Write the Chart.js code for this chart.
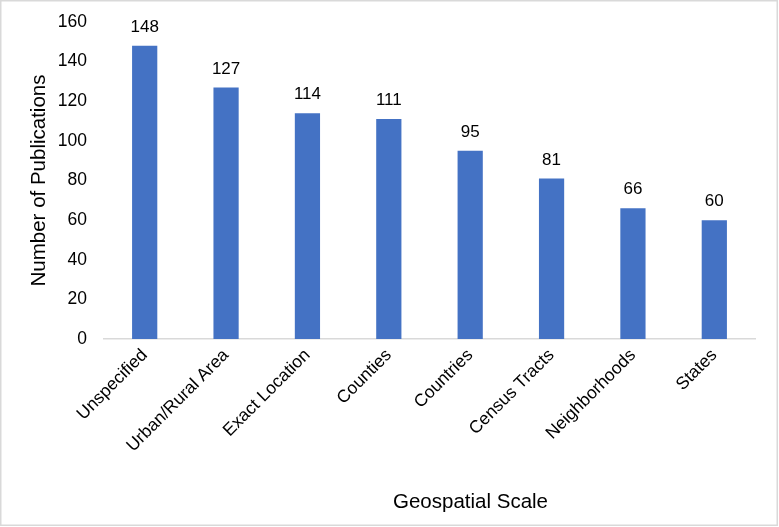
<!DOCTYPE html>
<html>
<head>
<meta charset="utf-8">
<script src="https://cdn.jsdelivr.net/npm/chart.js@4"></script>
<style>
  html, body { margin: 0; padding: 0; background: #fff; }
  #wrap { width: 779px; height: 527px; }
</style>
</head>
<body>
<div id="wrap"><canvas id="barChart" width="779" height="527"></canvas></div>
<script>
const categories = ["Unspecified", "Urban/Rural Area", "Exact Location", "Counties", "Countries", "Census Tracts", "Neighborhoods", "States"];
const publications = [148, 127, 114, 111, 95, 81, 66, 60];
const yTicks = [0, 20, 40, 60, 80, 100, 120, 140, 160];
const xTitle = "Geospatial Scale";
const yTitle = "Number of Publications";

const FONT = "'Liberation Sans', Arial, sans-serif";
const TICK_SIZE = 17.5;
const TITLE_SIZE = 20.5;

// value labels above each bar
const barLabels = {
    id: "barLabels",
    afterDatasetsDraw(chart) {
        const ctx = chart.ctx;
        const meta = chart.getDatasetMeta(0);
        ctx.save();
        ctx.font = "17px " + FONT;
        ctx.fillStyle = "#000";
        ctx.textAlign = "center";
        ctx.textBaseline = "bottom";
        meta.data.forEach((bar, i) => {
            ctx.fillText(publications[i], bar.x, bar.y - 10);
        });
        ctx.restore();
    }
};

// x axis title sits a bit right of the plot centre in the original
const xAxisTitle = {
    id: "xAxisTitle",
    afterDraw(chart) {
        const ctx = chart.ctx;
        const area = chart.chartArea;
        ctx.save();
        ctx.font = TITLE_SIZE + "px " + FONT;
        ctx.fillStyle = "#000";
        ctx.textAlign = "center";
        ctx.textBaseline = "alphabetic";
        ctx.fillText(xTitle, (area.left + area.right) / 2 + 41, chart.height - 19);
        ctx.restore();
    }
};

// light frame round the picture
const frame = {
    id: "frame",
    afterDraw(chart) {
        const ctx = chart.ctx;
        ctx.save();
        ctx.strokeStyle = "#d9d9d9";
        ctx.lineWidth = 1.5;
        ctx.strokeRect(0.75, 0.75, chart.width - 2.5, chart.height - 2.5);
        ctx.restore();
    }
};

new Chart(document.getElementById("barChart"), {
    type: "bar",
    data: {
        labels: categories,
        datasets: [{
            label: yTitle,
            data: publications,
            backgroundColor: "#4472c4",
            barPercentage: 0.31,
            categoryPercentage: 1
        }]
    },
    options: {
        responsive: false,
        animation: false,
        layout: {
            padding: { left: 0, right: 24, top: 22, bottom: 0 }
        },
        plugins: {
            legend: { display: false },
            tooltip: { enabled: false }
        },
        scales: {
            x: {
                grid: { display: false, drawTicks: false },
                border: { display: true, color: "#d9d9d9", width: 1.5 },
                ticks: {
                    color: "#000",
                    font: { family: FONT, size: TICK_SIZE },
                    maxRotation: 45,
                    minRotation: 45,
                    padding: 6
                },
                title: { display: false },
                afterFit(scale) { scale.height = 188; }
            },
            y: {
                min: 0,
                max: 160,
                afterBuildTicks(scale) {
                    scale.ticks = yTicks.map(v => ({ value: v }));
                },
                grid: { display: false, drawTicks: false },
                border: { display: false },
                ticks: {
                    color: "#000",
                    font: { family: FONT, size: TICK_SIZE },
                    padding: 17
                },
                title: {
                    display: true,
                    text: yTitle,
                    color: "#000",
                    font: { family: FONT, size: TITLE_SIZE },
                    padding: { top: 27, bottom: 0 }
                },
                afterFit(scale) {
                    scale.width = 104;
                    // tick padding would otherwise push the plot top down
                    scale.paddingTop = 10;
                    scale.paddingBottom = 0;
                }
            }
        }
    },
    plugins: [barLabels, xAxisTitle, frame]
});
</script>
</body>
</html>
